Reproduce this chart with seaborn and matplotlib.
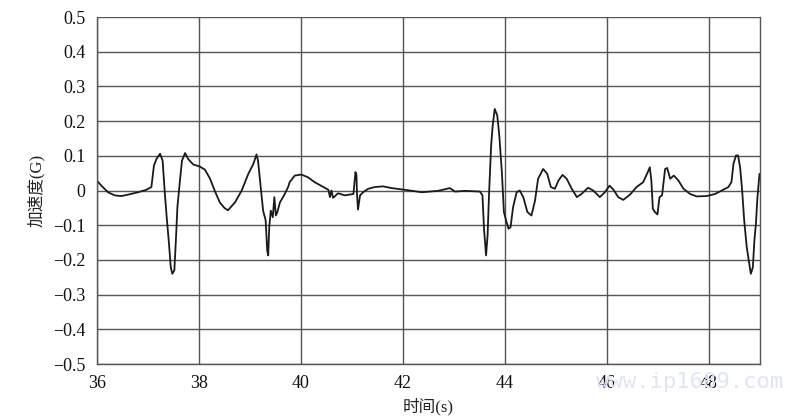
import matplotlib
matplotlib.use("Agg")
import matplotlib.pyplot as plt
import seaborn as sns
import pandas as pd

# time (s) and acceleration (G)
time_s = [36.00, 36.09, 36.22, 36.35, 36.48, 36.61, 36.81, 36.97, 37.07, 37.12, 37.17, 37.24, 37.29,
          37.33, 37.37, 37.41, 37.45, 37.48, 37.52, 37.55, 37.58, 37.63, 37.67, 37.73, 37.79, 37.89,
          38.02, 38.12, 38.22, 38.31, 38.41, 38.50, 38.57, 38.71, 38.84, 38.97, 39.07, 39.13, 39.16,
          39.22, 39.26, 39.31, 39.34, 39.36, 39.38, 39.41, 39.45, 39.48, 39.51, 39.54, 39.59, 39.67,
          39.75, 39.78, 39.88, 40.01, 40.14, 40.27, 40.44, 40.54, 40.57, 40.60, 40.63, 40.73, 40.86,
          41.03, 41.07, 41.09, 41.10, 41.12, 41.16, 41.22, 41.32, 41.45, 41.61, 41.78, 42.04, 42.37,
          42.69, 42.92, 43.02, 43.22, 43.51, 43.56, 43.59, 43.63, 43.66, 43.69, 43.73, 43.76, 43.80,
          43.85, 43.89, 43.94, 43.98, 44.03, 44.07, 44.11, 44.16, 44.23, 44.29, 44.36, 44.44, 44.52,
          44.59, 44.65, 44.75, 44.83, 44.90, 44.98, 45.05, 45.13, 45.21, 45.31, 45.41, 45.50, 45.63,
          45.73, 45.86, 45.96, 46.05, 46.13, 46.22, 46.32, 46.45, 46.58, 46.71, 46.80, 46.84, 46.87,
          46.90, 46.94, 46.99, 47.03, 47.08, 47.14, 47.18, 47.24, 47.31, 47.40, 47.50, 47.63, 47.76,
          47.95, 48.12, 48.25, 48.38, 48.44, 48.48, 48.53, 48.57, 48.61, 48.65, 48.69, 48.74, 48.79,
          48.82, 48.86, 48.89, 48.92, 48.95, 48.99]
accel_g = [0.029, 0.014, -0.005, -0.014, -0.016, -0.012, -0.005, 0.002, 0.010, 0.072, 0.091, 0.106, 0.086,
           0.000, -0.077, -0.144, -0.221, -0.240, -0.230, -0.144, -0.048, 0.029, 0.086, 0.108, 0.091, 0.075,
           0.069, 0.060, 0.034, 0.000, -0.034, -0.050, -0.057, -0.034, 0.000, 0.048, 0.077, 0.104, 0.086,
           0.000, -0.058, -0.086, -0.173, -0.187, -0.106, -0.058, -0.077, -0.019, -0.072, -0.062, -0.034, -0.014,
           0.010, 0.024, 0.043, 0.046, 0.038, 0.024, 0.010, 0.002, -0.019, 0.000, -0.021, -0.008, -0.014,
           -0.010, 0.053, 0.045, -0.010, -0.055, -0.014, -0.005, 0.005, 0.010, 0.012, 0.007, 0.002, -0.005,
           -0.001, 0.007, -0.003, -0.001, -0.003, -0.014, -0.110, -0.187, -0.130, -0.005, 0.130, 0.187, 0.235,
           0.216, 0.158, 0.053, -0.062, -0.090, -0.110, -0.106, -0.048, -0.005, 0.000, -0.019, -0.062, -0.072,
           -0.029, 0.034, 0.062, 0.048, 0.010, 0.005, 0.029, 0.045, 0.034, 0.005, -0.019, -0.010, 0.008,
           0.000, -0.019, -0.005, 0.014, 0.002, -0.019, -0.027, -0.012, 0.010, 0.024, 0.053, 0.067, 0.029,
           -0.053, -0.062, -0.069, -0.019, -0.014, 0.062, 0.065, 0.034, 0.043, 0.029, 0.005, -0.010, -0.017,
           -0.016, -0.010, 0.000, 0.010, 0.024, 0.077, 0.101, 0.101, 0.067, 0.000, -0.086, -0.163, -0.211,
           -0.240, -0.221, -0.144, -0.096, -0.019, 0.048]

x_ticks = [36, 38, 40, 42, 44, 46, 48]
y_ticks = [-0.5, -0.4, -0.3, -0.2, -0.1, 0, 0.1, 0.2, 0.3, 0.4, 0.5]
y_tick_labels = ["\u22120.5", "\u22120.4", "\u22120.3", "\u22120.2", "\u22120.1", "0",
                 "0.1", "0.2", "0.3", "0.4", "0.5"]
x_label = "时间(s)"
y_label = "加速度(G)"
watermark = "www.ip1689.com"

sns.set_style("white")
plt.rcParams['font.family'] = ['Liberation Serif', 'Noto Sans CJK SC', 'DejaVu Sans']

df = pd.DataFrame({"t": time_s, "a": accel_g})

fig = plt.figure(figsize=(8, 4.2), dpi=100)
ax = fig.add_axes([0.121, 0.1333, 0.829, 0.8262])

sns.lineplot(data=df, x="t", y="a", ax=ax, color="#1a1a1a", linewidth=1.3,
             estimator=None, sort=False)

ax.set_xlim(36, 49)
ax.set_ylim(-0.5, 0.5)
ax.set_xticks(x_ticks)
ax.set_xticklabels([str(v) for v in x_ticks])
ax.set_yticks(y_ticks)
ax.set_yticklabels(y_tick_labels)
ax.tick_params(axis='both', length=0, labelsize=13, colors="#111111", pad=8)
ax.grid(True, color="#555555", linewidth=1.0)
ax.set_axisbelow(True)

for side in ["left", "bottom", "right"]:
    ax.spines[side].set_visible(True)
    ax.spines[side].set_color("#555555")
    ax.spines[side].set_linewidth(1.0)
ax.spines["top"].set_visible(False)

ax.set_xlabel(x_label, fontsize=12, labelpad=4, color="#222222")
ax.set_ylabel(y_label, fontsize=12, labelpad=6, color="#222222")

fig.text(0.745, 0.09, watermark, fontsize=16, color="#dfe4f6",
         family="DejaVu Sans Mono", va="center", ha="left", zorder=0)

fig.savefig("out.png", dpi=100)
